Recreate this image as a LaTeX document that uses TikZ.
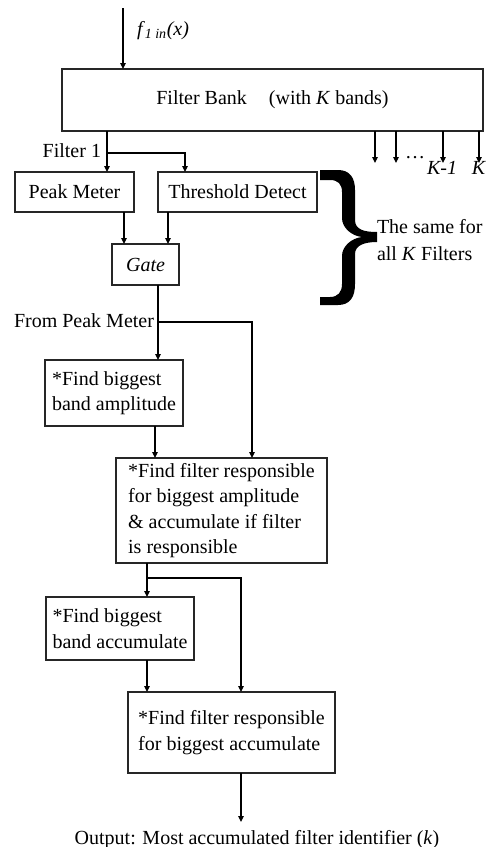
\documentclass[tikz,border=0pt]{standalone}
\usepackage{fontspec}
\setmainfont{Liberation Serif}
\usetikzlibrary{arrows.meta}
\begin{document}
\begin{tikzpicture}[x=1pt,y=-1pt,
  every node/.style={font=\fontsize{20}{25.6}\selectfont, inner sep=0pt, outer sep=0pt},
  box/.style={draw=black!85, line width=1.3pt, align=left},
  conn/.style={line width=1.1pt},
  arr/.style={conn, -{Triangle[length=6pt,width=5.5pt]}},
  lbl/.style={anchor=base}
]
\useasboundingbox (0,0) rectangle (489,847);

% boxes
\node[box, minimum width=421pt, minimum height=62pt] (fb) at (272.5,100) {Filter Bank\hspace{22pt}(with \textit{K} bands)};
\node[box, minimum width=119pt, minimum height=40pt] (peak) at (74.5,192) {Peak Meter};
\node[box, minimum width=159pt, minimum height=40pt] (thr) at (237.5,192) {Threshold Detect};
\node[box, minimum width=67pt, minimum height=41pt] (gate) at (145.5,264.5) {\textit{Gate}};
\node[box, minimum width=138pt, minimum height=66pt] (b2) at (114,393) {*Find biggest\\band amplitude};
\node[box, minimum width=211pt, minimum height=105pt] (b3) at (221.5,510.5) {*Find filter responsible\\for biggest amplitude\\\& accumulate if filter\\is responsible};
\node[box, minimum width=148pt, minimum height=63pt] (b4) at (120,628.5) {*Find biggest\\band accumulate};
\node[box, minimum width=207pt, minimum height=81pt] (b5) at (231.5,732.5) {*Find filter responsible\\for biggest accumulate};

% labels
\node[lbl, anchor=base west] (lin) at (137,35) {\textit{f}\textsubscript{\textit{1 in}}\textit{(x)}};
\node[lbl, anchor=base east] (lf1) at (101,157) {Filter 1};
\node[lbl] (dots) at (415,158) {\dots};
\node[lbl] (lk1) at (442,174) {\textit{K-1}};
\node[lbl] (lk) at (479,174) {\textit{K}};
\node[lbl, anchor=base east] (lfp) at (154,327) {From Peak Meter};
\node[anchor=west, align=left, font=\fontsize{20}{26.5}\selectfont] (same) at (377,240) {The same for\\all \textit{K} Filters};
\node[lbl] (lout) at (257,844) {Output: Most accumulated filter identifier (\textit{k})};

% coordinates
\coordinate (inp) at (123,8);
\coordinate (j1) at (107,153);
\coordinate (c185) at (185,0);
\coordinate (c124) at (124,0);
\coordinate (c168) at (168,0);
\coordinate (k1) at (375,163);
\coordinate (k2) at (396,163);
\coordinate (k3) at (443,163);
\coordinate (k4) at (479,163);
\coordinate (j2) at (158,322);
\coordinate (c252) at (252,0);
\coordinate (c155) at (155,0);
\coordinate (j3) at (147,578);
\coordinate (c241) at (241,0);
\coordinate (out) at (241,822);

% connectors
\draw[arr] (inp) -- (fb.north -| inp);
\draw[conn] (fb.south -| j1) -- (j1);
\draw[arr] (j1) -- (peak.north -| j1);
\draw[arr] (j1) -| (c185 |- thr.north);
\foreach \k in {k1,k2,k3,k4} \draw[arr] (fb.south -| \k) -- (\k);
\draw[arr] (peak.south -| c124) -- (gate.north -| c124);
\draw[arr] (thr.south -| c168) -- (gate.north -| c168);
\draw[conn] (gate.south -| j2) -- (j2);
\draw[arr] (j2) -- (b2.north -| j2);
\draw[arr] (j2) -| (c252 |- b3.north);
\draw[arr] (b2.south -| c155) -- (b3.north -| c155);
\draw[conn] (b3.south -| j3) -- (j3);
\draw[arr] (j3) -- (b4.north -| j3);
\draw[arr] (j3) -| (c241 |- b5.north);
\draw[arr] (b4.south -| j3) -- (b5.north -| j3);
\draw[arr] (b5.south -| out) -- (out);

% brace (filled glyph-like shape)
\fill[black] (320,170) -- (338,170)
  .. controls (350,170) and (355,178) .. (355,190)
  -- (355,220)
  .. controls (355,230) and (365,232) .. (377,232)
  -- (377,242)
  .. controls (365,242) and (355,245) .. (355,254)
  -- (355,284)
  .. controls (355,297) and (350,305) .. (338,305)
  -- (320,305) -- (320,297) -- (330,297)
  .. controls (338,297) and (342,292) .. (342,284)
  -- (342,256)
  .. controls (342,246) and (352,238) .. (362,237)
  .. controls (352,236) and (342,228) .. (342,218)
  -- (342,192)
  .. controls (342,184) and (338,180) .. (330,180)
  -- (320,180) -- cycle;
\end{tikzpicture}
\end{document}
